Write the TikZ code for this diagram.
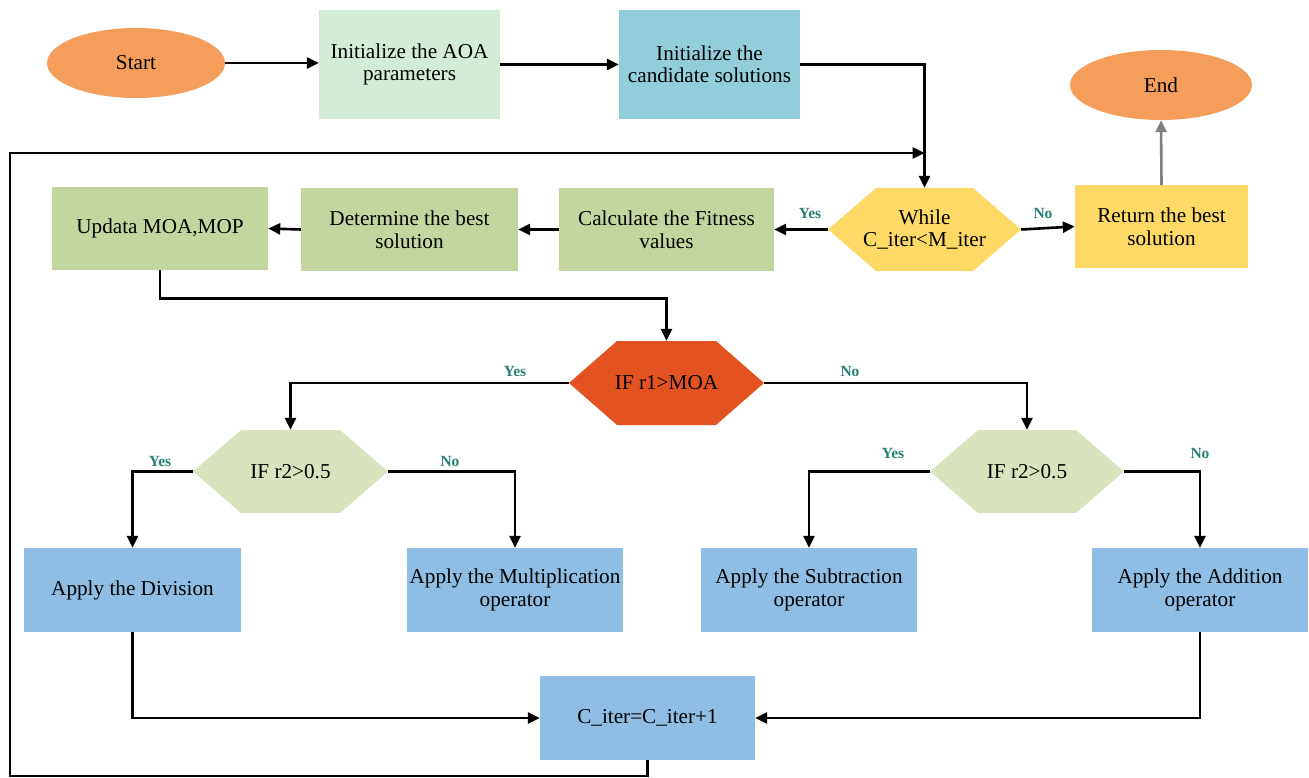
\documentclass[tikz,border=0pt]{standalone}
\usepackage{fontspec}
\setmainfont{Liberation Serif}
\usetikzlibrary{arrows.meta,shapes.geometric}

\definecolor{ovalc}{RGB}{245,158,91}
\definecolor{initc}{RGB}{211,236,216}
\definecolor{candc}{RGB}{146,205,220}
\definecolor{yelc}{RGB}{255,217,102}
\definecolor{grnc}{RGB}{196,214,160}
\definecolor{redc}{RGB}{227,83,34}
\definecolor{palec}{RGB}{215,228,189}
\definecolor{bluec}{RGB}{143,189,227}
\definecolor{lblc}{RGB}{38,128,115}
\definecolor{grayc}{RGB}{128,128,128}

\tikzset{
  txt/.style={align=center, inner sep=0pt, text=black, font=\fontsize{21.2}{22.5}\selectfont},
  box/.style={txt, rectangle, fill=#1},
  oval/.style={txt, ellipse, fill=ovalc},
  hexa/.style={txt, rectangle,
    path picture={\fill[#1] (path picture bounding box.west)
      -- ([xshift=48]path picture bounding box.north west)
      -- ([xshift=-48]path picture bounding box.north east)
      -- (path picture bounding box.east)
      -- ([xshift=-48]path picture bounding box.south east)
      -- ([xshift=48]path picture bounding box.south west) -- cycle;}},
  flow/.style={draw=black, line width=2.6pt, -{Triangle[length=12pt,width=11pt]}},
  grayflow/.style={draw=grayc, line width=2.6pt, -{Triangle[length=12pt,width=11pt]}},
  lbl/.style={text=lblc, font=\fontsize{15.5}{17}\selectfont\bfseries, inner sep=0pt}
}

\begin{document}
\begin{tikzpicture}[x=1pt, y=-1pt]
\useasboundingbox (0,0) rectangle (1309,778);

% top row
\node[oval, minimum width=178, minimum height=70] (start) at (136,63) {Start};
\node[box=initc, minimum width=181, minimum height=109] (init) at (409.5,64.5) {Initialize the AOA\\parameters};
\node[box=candc, minimum width=181, minimum height=109] (cand) at (709.5,64.5) {Initialize the\\candidate solutions};
\node[oval, minimum width=182, minimum height=70] (endn) at (1161,85) {End};

% main loop row
\node[box=yelc, minimum width=173, minimum height=83] (ret) at (1161.5,226.5) {Return the best\\solution};
\node[hexa=yelc, minimum width=193, minimum height=83] (while) at (924.5,229.5) {While\\C\_iter<M\_iter};
\node[box=grnc, minimum width=215, minimum height=83] (fit) at (666.5,229.5) {Calculate the Fitness\\values};
\node[box=grnc, minimum width=217, minimum height=83] (best) at (409.5,229.5) {Determine the best\\solution};
\node[box=grnc, minimum width=216, minimum height=83] (upd) at (160,228.5) {Updata MOA,MOP};

% decisions
\node[hexa=redc, minimum width=195, minimum height=84] (if1) at (666.5,383) {IF r1>MOA};
\node[hexa=palec, minimum width=195, minimum height=83] (if2a) at (290.5,471.5) {IF r2>0.5};
\node[hexa=palec, minimum width=194, minimum height=83] (if2b) at (1027,471.5) {IF r2>0.5};

% operators
\node[box=bluec, minimum width=217, minimum height=84] (div) at (132.5,590) {Apply the Division};
\node[box=bluec, minimum width=216, minimum height=84] (mul) at (515,590) {Apply the Multiplication\\operator};
\node[box=bluec, minimum width=216, minimum height=84] (sub) at (809,590) {Apply the Subtraction\\operator};
\node[box=bluec, minimum width=216, minimum height=84] (add) at (1200,590) {Apply the Addition\\operator};
\node[box=bluec, minimum width=215, minimum height=84] (citer) at (647.5,718) {C\_iter=C\_iter+1};

% connectors
\draw[flow] (start.east) -- (start.east -| init.west);
\draw[flow] (init.east) -- (cand.west);
\draw[flow] (cand.east) -| (while.north);
\coordinate (loopbot) at (10,776);
\coordinate (looptop) at (10,153);
\draw[flow] (citer.south) |- (loopbot) -- (looptop) -- (looptop -| while.north);
\draw[grayflow] (ret.north) -- (endn.south);
\draw[flow] (while.east) -- (ret.west);
\draw[flow] (while.west) -- (fit.east);
\draw[flow] (fit.west) -- (best.east);
\draw[flow] (best.west) -- (upd.east);
\draw[flow] (upd.south) -- ++(0,28) -| (if1.north);
\draw[flow] (if1.west) -| (if2a.north);
\draw[flow] (if1.east) -| (if2b.north);
\draw[flow] (if2a.west) -| (div.north);
\draw[flow] (if2a.east) -| (mul.north);
\draw[flow] (if2b.west) -| (sub.north);
\draw[flow] (if2b.east) -| (add.north);
\draw[flow] (div.south) |- (citer.west);
\draw[flow] (add.south) |- (citer.east);

% branch labels
\node[lbl] (wy) at (810,214) {Yes};
\node[lbl] (wn) at (1043,214) {No};
\node[lbl] (ay) at (515,371) {Yes};
\node[lbl] (an) at (850,371) {No};
\node[lbl] (by) at (160,461) {Yes};
\node[lbl] (bn) at (450,461) {No};
\node[lbl] (cy) at (893,453) {Yes};
\node[lbl] (cn) at (1200,453) {No};
\end{tikzpicture}
\end{document}
